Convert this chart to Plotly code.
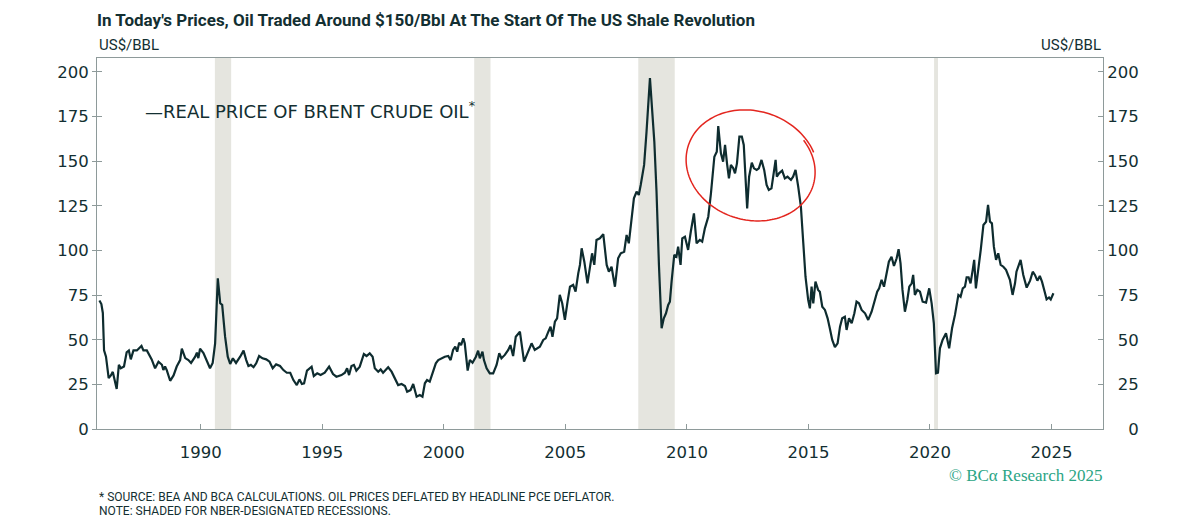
import numpy as np
import plotly.graph_objects as go

# ---------------- data ----------------
DATES = [
    1985.83, 1985.91, 1985.97, 1986.02, 1986.10, 1986.21, 1986.30, 1986.38, 1986.43, 1986.54,
    1986.63, 1986.71, 1986.84, 1986.95, 1987.04, 1987.12, 1987.23, 1987.37, 1987.56, 1987.64,
    1987.78, 1987.89, 1987.98, 1988.12, 1988.26, 1988.40, 1988.46, 1988.53, 1988.60, 1988.74,
    1988.88, 1989.01, 1989.15, 1989.22, 1989.36, 1989.49, 1989.60, 1989.77, 1989.84, 1989.90,
    1989.97, 1990.11, 1990.25, 1990.38, 1990.49, 1990.59, 1990.70, 1990.80, 1990.88, 1991.00,
    1991.11, 1991.21, 1991.32, 1991.45, 1991.62, 1991.76, 1991.87, 1991.96, 1992.06, 1992.17,
    1992.28, 1992.40, 1992.54, 1992.69, 1992.83, 1992.96, 1993.10, 1993.26, 1993.40, 1993.54,
    1993.68, 1993.81, 1993.95, 1994.06, 1994.16, 1994.25,
    1994.37, 1994.56, 1994.65, 1994.79, 1994.93, 1995.10, 1995.28, 1995.44, 1995.58, 1995.79,
    1995.93, 1996.02, 1996.10, 1996.20, 1996.30, 1996.40, 1996.54, 1996.71, 1996.82, 1996.95,
    1997.07, 1997.16, 1997.30, 1997.40, 1997.50, 1997.61, 1997.71, 1997.85, 1997.98, 1998.12,
    1998.26, 1998.40, 1998.49, 1998.63, 1998.74, 1998.88, 1999.01, 1999.12, 1999.22, 1999.31,
    1999.42, 1999.53, 1999.67, 1999.77, 1999.90, 2000.04, 2000.18, 2000.28, 2000.38, 2000.47,
    2000.55, 2000.63, 2000.71, 2000.80, 2000.86, 2000.98, 2001.07, 2001.18, 2001.32, 2001.41,
    2001.48, 2001.59, 2001.65, 2001.76, 2001.89, 2002.03, 2002.17, 2002.28, 2002.37, 2002.51,
    2002.65, 2002.74, 2002.85, 2002.96,
    2003.13, 2003.22, 2003.30, 2003.44, 2003.61, 2003.74, 2003.95, 2004.09, 2004.19, 2004.30,
    2004.39, 2004.47, 2004.57, 2004.66, 2004.77, 2004.87, 2004.98, 2005.09, 2005.19, 2005.32,
    2005.42, 2005.53, 2005.60, 2005.67, 2005.78, 2005.91, 2006.02, 2006.10, 2006.19, 2006.28,
    2006.42, 2006.56, 2006.70, 2006.79, 2006.90, 2007.04, 2007.17, 2007.28, 2007.42, 2007.52,
    2007.61, 2007.72, 2007.82, 2007.93, 2008.02, 2008.10, 2008.24, 2008.34, 2008.48, 2008.66,
    2008.75, 2008.85, 2008.96, 2009.05, 2009.14, 2009.23, 2009.30, 2009.37, 2009.48, 2009.57,
    2009.64, 2009.74, 2009.81, 2009.92, 2009.99, 2010.05, 2010.16, 2010.29,
    2010.40, 2010.53, 2010.63, 2010.74, 2010.88, 2010.99, 2011.13, 2011.23, 2011.29, 2011.40,
    2011.49, 2011.57, 2011.65, 2011.73, 2011.81, 2011.91, 2011.98, 2012.06, 2012.16, 2012.26,
    2012.34, 2012.42, 2012.48, 2012.56, 2012.67, 2012.76, 2012.87, 2012.96, 2013.07, 2013.18,
    2013.28, 2013.37, 2013.48, 2013.57, 2013.65, 2013.70, 2013.79, 2013.92, 2014.03, 2014.14,
    2014.28, 2014.37, 2014.47, 2014.58, 2014.69, 2014.79, 2014.88, 2014.99, 2015.06, 2015.13,
    2015.20, 2015.29, 2015.40, 2015.47, 2015.57, 2015.68, 2015.79, 2015.88, 2015.98, 2016.09,
    2016.20, 2016.30, 2016.39, 2016.50, 2016.57, 2016.67, 2016.78, 2016.89, 2016.98, 2017.08,
    2017.19, 2017.33, 2017.46, 2017.60, 2017.74,
    2017.83, 2017.91, 2018.01, 2018.11, 2018.22, 2018.31, 2018.42, 2018.52, 2018.63, 2018.71,
    2018.79, 2018.87, 2018.97, 2019.07, 2019.15, 2019.25, 2019.31, 2019.38, 2019.48, 2019.59,
    2019.70, 2019.84, 2019.97, 2020.07, 2020.16, 2020.25, 2020.33, 2020.41, 2020.52, 2020.66,
    2020.79, 2020.91, 2021.03, 2021.17, 2021.26, 2021.35, 2021.44, 2021.51, 2021.59, 2021.67,
    2021.76, 2021.82, 2021.89, 2021.99, 2022.09, 2022.20, 2022.31, 2022.39, 2022.47, 2022.55,
    2022.63, 2022.72, 2022.81, 2022.91, 2023.02, 2023.13, 2023.22, 2023.29, 2023.40, 2023.50,
    2023.56, 2023.73, 2023.84, 2023.98, 2024.12, 2024.23, 2024.32, 2024.42, 2024.52, 2024.61,
    2024.72, 2024.80, 2024.90, 2024.97, 2025.08,
]

PRICE = [
    72.0, 70.0, 65.0, 44.0, 40.5, 28.5, 30.0, 32.0, 29.0, 22.4,
    36.0, 34.0, 35.0, 43.0, 44.0, 39.0, 44.0, 44.0, 46.5, 44.0,
    44.0, 41.5, 39.0, 34.0, 37.7, 36.0, 33.0, 35.0, 33.0, 27.0,
    30.0, 35.0, 38.6, 45.0, 39.7, 38.6, 37.0, 40.5, 42.8, 39.7,
    45.0, 42.5, 38.0, 34.0, 37.0, 48.0, 84.4, 70.4, 69.5, 51.7,
    40.5, 36.4, 39.6, 37.0, 40.5, 43.9, 38.6, 35.3, 35.9, 34.6,
    36.8, 40.9, 39.6, 39.0, 37.7, 34.0, 36.2, 35.3, 33.0, 31.5,
    31.5, 27.4, 24.6, 27.8, 25.2, 25.6,
    32.7, 34.9, 29.7, 31.2, 30.2, 31.5, 34.9, 30.8, 29.3, 30.2,
    31.5, 34.0, 30.2, 35.3, 35.9, 32.7, 34.9, 42.0, 40.9, 42.4,
    40.5, 34.0, 32.1, 33.4, 31.5, 33.0, 34.6, 32.1, 28.4, 24.6,
    25.2, 24.1, 20.9, 21.8, 25.2, 18.1, 19.0, 18.1, 25.6, 27.4,
    26.5, 31.2, 36.8, 38.6, 39.6, 40.5, 40.9, 38.6, 44.3, 46.1,
    43.3, 48.3, 47.0, 50.8, 48.0, 32.7, 38.6, 37.1, 40.5, 43.9,
    39.6, 43.3, 38.6, 34.0, 31.2, 31.2, 35.9, 42.4, 39.6, 41.5,
    44.3, 47.0, 40.9, 51.7,
    54.5, 44.3, 37.7, 42.4, 48.0, 44.3, 46.1, 49.9, 50.8, 54.5,
    57.3, 51.7, 60.1, 62.0, 75.1, 70.4, 61.1, 71.3, 79.7, 80.7,
    76.9, 87.2, 91.9, 101.2, 93.7, 81.6, 90.0, 98.4, 91.9, 105.9,
    106.8, 109.1, 91.9, 88.1, 90.9, 79.7, 95.6, 98.4, 99.3, 108.7,
    104.0, 116.1, 129.2, 132.9, 131.1, 136.7, 147.9, 166.6, 196.5, 161.0,
    133.0, 91.9, 56.4, 62.0, 64.8, 69.5, 71.3, 82.5, 97.5, 96.5,
    102.1, 91.9, 106.8, 107.7, 104.0, 100.3, 110.5, 120.8,
    104.0, 105.9, 104.9, 112.4, 118.9, 132.0, 152.5, 155.3, 169.7, 154.4,
    149.7, 159.1, 148.8, 140.4, 147.9, 146.0, 143.2, 148.8, 163.8, 163.8,
    159.1, 141.3, 123.6, 141.3, 149.2, 146.0, 145.1, 146.0, 150.7, 145.1,
    136.7, 133.9, 134.8, 143.2, 150.7, 141.3, 143.2, 144.7, 140.4, 141.3,
    139.5, 141.3, 145.1, 135.8, 124.6, 104.0, 85.3, 72.3, 67.6, 79.7,
    70.4, 82.5, 77.9, 76.9, 68.5, 66.7, 62.0, 56.4, 49.9, 45.8,
    48.0, 57.3, 62.0, 62.9, 55.5, 62.0, 59.2, 64.8, 71.3, 70.4,
    66.7, 64.8, 61.1, 65.7, 72.3,
    76.9, 78.8, 83.5, 79.7, 87.2, 93.7, 96.5, 91.3, 95.6, 100.7,
    92.8, 77.9, 65.7, 72.3, 79.7, 81.6, 86.3, 75.1, 77.9, 76.9,
    71.3, 70.8, 78.8, 70.4, 59.2, 31.2, 31.5, 45.2, 49.9, 53.6,
    45.2, 56.4, 63.9, 75.1, 74.1, 78.8, 79.7, 85.0, 85.0, 81.6,
    89.1, 94.7, 78.8, 89.1, 100.3, 114.3, 116.1, 125.5, 116.1, 115.2,
    102.1, 94.7, 98.4, 91.9, 90.9, 89.1, 85.3, 83.5, 75.1, 81.6,
    88.1, 94.7, 86.3, 79.2, 83.1, 88.1, 86.3, 83.1, 85.7, 82.5,
    76.9, 72.6, 73.7, 72.6, 76.0,
]

# NBER recessions (decimal years)
REC_START = [1990.58, 2001.25, 2008.00, 2020.17]
REC_END = [1991.25, 2001.92, 2009.50, 2020.33]

X_TICKS = [1990, 1995, 2000, 2005, 2010, 2015, 2020, 2025]
X_LABELS = [str(v) for v in X_TICKS]
Y_TICKS = [0, 25, 50, 75, 100, 125, 150, 175, 200]
Y_LABELS = [str(v) for v in Y_TICKS]
Y_LABELS_RIGHT = ["\u2007" * (3 - len(s)) + s for s in Y_LABELS]

TITLE = "In Today's Prices, Oil Traded Around $150/Bbl At The Start Of The US Shale Revolution"
SERIES_NAME = "REAL PRICE OF BRENT CRUDE OIL"
UNIT = "US$/BBL"
FOOT1 = "* SOURCE: BEA AND BCA CALCULATIONS. OIL PRICES DEFLATED BY HEADLINE PCE DEFLATOR."
FOOT2 = "NOTE: SHADED FOR NBER-DESIGNATED RECESSIONS."
COPYRIGHT = "© BCα Research 2025"

# ---------------- style ----------------
W, H = 1200, 530
ML, MR, MT, MB = 97, 97, 58, 101
X_RANGE = [1985.73, 2027.12]
Y_RANGE = [0, 207.8]

LINE_C = "#0e2c2f"
TEXT_C = "#132f32"
AXIS_C = "#8e9a9a"
SHADE_C = "#e5e5df"
RED_C = "#e3261f"
GREEN_C = "#2ba585"
TICK_FONT = dict(family="DejaVu Sans", size=16.5, color=TEXT_C)
NARROW = "Liberation Sans Narrow, Arial Narrow, Roboto, sans-serif"

fig = go.Figure()

fig.add_trace(go.Scatter(
    x=DATES, y=PRICE, mode="lines", name=SERIES_NAME + "*",
    line=dict(color=LINE_C, width=2.2), showlegend=False,
))
# helper traces so the mirrored axes are drawn
fig.add_trace(go.Scatter(x=[], y=[], yaxis="y2", showlegend=False, hoverinfo="skip"))
fig.add_trace(go.Scatter(x=[], y=[], yaxis="y3", showlegend=False, hoverinfo="skip"))

for s, e in zip(REC_START, REC_END):
    fig.add_vrect(x0=s, x1=e, fillcolor=SHADE_C, opacity=1, line_width=0, layer="below")

# hand-drawn style red ellipse around the 2011-2014 plateau
plot_w = W - ML - MR
plot_h = H - MT - MB
px_per_x = plot_w / (X_RANGE[1] - X_RANGE[0])
px_per_y = plot_h / (Y_RANGE[1] - Y_RANGE[0])
ELL_CX, ELL_CY = 2012.65, 147.3      # centre (data units)
ELL_A, ELL_B, ELL_ROT = 65.4, 53.9, np.deg2rad(17)  # pixel radii, tilt
t = np.linspace(-0.85, -0.85 + 2 * np.pi * 1.04, 160)
grow = np.linspace(0.985, 1.03, t.size)
ex = ELL_A * np.cos(t) * grow
ey = ELL_B * np.sin(t) * grow
rx = ex * np.cos(ELL_ROT) - ey * np.sin(ELL_ROT)
ry = ex * np.sin(ELL_ROT) + ey * np.cos(ELL_ROT)   # screen y (down)
path_x = ELL_CX + rx / px_per_x
path_y = ELL_CY - ry / px_per_y
path = "M " + " L ".join(f"{a:.4f},{b:.3f}" for a, b in zip(path_x, path_y))
fig.add_shape(type="path", path=path, xref="x", yref="y",
              line=dict(color=RED_C, width=1.5))

fig.update_layout(
    width=W, height=H,
    margin=dict(l=ML, r=MR, t=MT, b=MB),
    paper_bgcolor="white", plot_bgcolor="white",
    showlegend=False,
    title=dict(text="<b>" + TITLE + "</b>", x=97 / W, xanchor="left",
               y=1 - 20 / H, yanchor="middle",
               font=dict(family=NARROW, size=17, color=TEXT_C)),
    xaxis=dict(range=X_RANGE, tickvals=X_TICKS, ticktext=X_LABELS,
               ticks="inside", ticklen=5, tickcolor=AXIS_C, tickwidth=1,
               showline=True, linecolor=AXIS_C, linewidth=1, mirror=True,
               showgrid=False, zeroline=False, tickfont=TICK_FONT,
               ticklabelstandoff=8),
    yaxis=dict(range=Y_RANGE, tickvals=Y_TICKS, ticktext=Y_LABELS,
               ticks="outside", ticklen=4, tickcolor=AXIS_C, tickwidth=1,
               showline=True, linecolor=AXIS_C, linewidth=1,
               showgrid=False, zeroline=False, tickfont=TICK_FONT),
    yaxis2=dict(range=Y_RANGE, tickvals=Y_TICKS, ticktext=Y_LABELS_RIGHT,
                overlaying="y", side="right", anchor="x",
                ticks="inside", ticklen=5, tickcolor=AXIS_C, tickwidth=1,
                showline=True, linecolor=AXIS_C, linewidth=1,
                showgrid=False, zeroline=False, tickfont=TICK_FONT),
    yaxis3=dict(range=Y_RANGE, tickvals=Y_TICKS, showticklabels=False,
                overlaying="y", side="left", anchor="x",
                ticks="inside", ticklen=5, tickcolor=AXIS_C, tickwidth=1,
                showline=False, showgrid=False, zeroline=False),
)

def py(pix):
    """paper y from a pixel row"""
    return (H - MB - pix) / plot_h

fig.add_annotation(text=UNIT, xref="paper", yref="paper", x=0, y=py(45),
                   xanchor="left", yanchor="middle", showarrow=False,
                   font=dict(family=NARROW, size=15, color=TEXT_C))
fig.add_annotation(text=UNIT, xref="paper", yref="paper", x=1, y=py(45),
                   xanchor="right", yanchor="middle", showarrow=False,
                   font=dict(family=NARROW, size=15, color=TEXT_C))
fig.add_annotation(text="—" + SERIES_NAME + "<sup>*</sup>", xref="paper", yref="paper",
                   x=(143 - ML) / plot_w, y=py(110), xanchor="left", yanchor="middle",
                   showarrow=False,
                   font=dict(family="DejaVu Sans", size=18, color=TEXT_C))
fig.add_annotation(text=COPYRIGHT, xref="paper", yref="paper", x=1.002, y=py(476),
                   xanchor="right", yanchor="middle", showarrow=False,
                   font=dict(family="Liberation Serif, DejaVu Serif, serif", size=17, color=GREEN_C))
fig.add_annotation(text=FOOT1, xref="paper", yref="paper", x=0, y=py(497),
                   xanchor="left", yanchor="middle", showarrow=False,
                   font=dict(family=NARROW, size=12, color=TEXT_C))
fig.add_annotation(text=FOOT2, xref="paper", yref="paper", x=0, y=py(511),
                   xanchor="left", yanchor="middle", showarrow=False,
                   font=dict(family=NARROW, size=12, color=TEXT_C))

fig.write_html("out.html")
